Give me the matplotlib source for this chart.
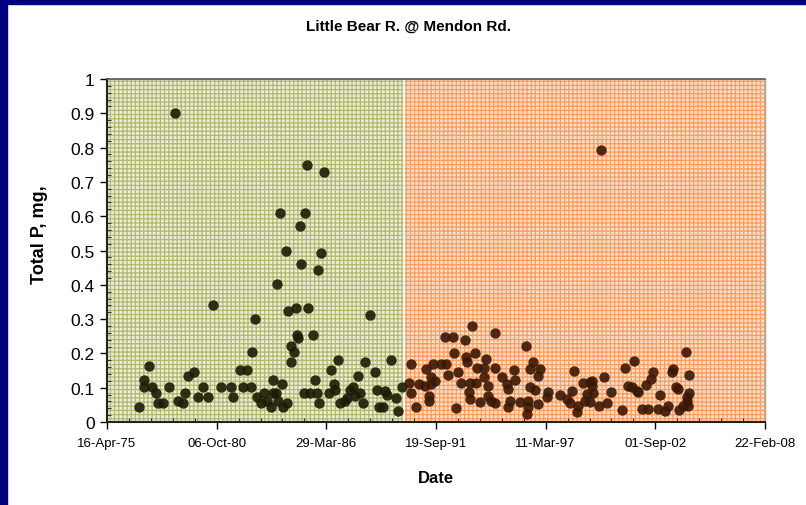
import numpy as np
import pandas as pd
import matplotlib
matplotlib.use("Agg")
import matplotlib.pyplot as plt
import matplotlib.dates as mdates
from matplotlib.ticker import MultipleLocator

plt.rcParams['font.family'] = ['Liberation Sans', 'DejaVu Sans']
plt.rcParams['hatch.linewidth'] = 0.9

# sample dates as decimal years
years_early = [1976.87, 1977.12, 1977.15, 1977.39, 1977.55, 1977.74, 1977.85, 1978.07, 1978.37, 1978.69,
               1978.85, 1979.07, 1979.17, 1979.35, 1979.62, 1979.85, 1980.10, 1980.35, 1980.60, 1980.98,
               1981.47, 1981.60, 1981.93, 1982.07, 1982.28, 1982.47, 1982.53, 1982.69, 1982.79, 1982.96,
               1983.14, 1983.26, 1983.46, 1983.56, 1983.56, 1983.71, 1983.76, 1983.84, 1983.94, 1984.01,
               1984.06, 1984.21, 1984.26, 1984.31, 1984.46, 1984.49, 1984.63, 1984.71, 1984.76, 1984.81,
               1984.93, 1984.99, 1985.13, 1985.19, 1985.26, 1985.31, 1985.43, 1985.56, 1985.68, 1985.76,
               1985.81, 1985.88, 1985.99, 1986.12, 1986.36, 1986.49, 1986.61, 1986.67, 1986.81, 1986.92,
               1987.17, 1987.29, 1987.42, 1987.56, 1987.67, 1987.81, 1987.92, 1988.06, 1988.17, 1988.42,
               1988.67, 1988.79, 1988.89, 1989.09, 1989.17, 1989.29, 1989.47, 1989.70, 1989.80, 1990.00]
tp_early = [0.044, 0.123, 0.102, 0.163, 0.102, 0.085, 0.055, 0.055, 0.102, 0.90,
            0.061, 0.055, 0.084, 0.133, 0.145, 0.073, 0.102, 0.073, 0.341, 0.102,
            0.102, 0.073, 0.152, 0.102, 0.152, 0.102, 0.203, 0.300, 0.074, 0.055,
            0.084, 0.062, 0.044, 0.123, 0.084, 0.084, 0.402, 0.062, 0.61, 0.112,
            0.045, 0.50, 0.055, 0.323, 0.174, 0.222, 0.203, 0.333, 0.255, 0.244,
            0.57, 0.46, 0.084, 0.61, 0.75, 0.333, 0.084, 0.254, 0.123, 0.084,
            0.442, 0.055, 0.493, 0.73, 0.084, 0.152, 0.112, 0.092, 0.182, 0.055,
            0.062, 0.071, 0.094, 0.102, 0.077, 0.134, 0.084, 0.055, 0.174, 0.312,
            0.145, 0.094, 0.044, 0.044, 0.089, 0.080, 0.182, 0.069, 0.032, 0.102]

years_late = [1990.35, 1990.45, 1990.47, 1990.73, 1990.85, 1991.15, 1991.22, 1991.35, 1991.35, 1991.48,
              1991.48, 1991.55, 1991.65, 1991.98, 1992.15, 1992.23, 1992.32, 1992.58, 1992.60, 1992.70,
              1992.81, 1992.95, 1993.15, 1993.20, 1993.26, 1993.35, 1993.40, 1993.40, 1993.51, 1993.65,
              1993.73, 1993.75, 1993.91, 1994.11, 1994.11, 1994.20, 1994.31, 1994.31, 1994.45, 1994.65,
              1994.65, 1994.66, 1994.99, 1995.26, 1995.33, 1995.33, 1995.41, 1995.63, 1995.66, 1995.91,
              1996.20, 1996.25, 1996.33, 1996.33, 1996.43, 1996.43, 1996.58, 1996.66, 1996.80, 1996.82,
              1996.91, 1997.24, 1997.32, 1997.91, 1998.24, 1998.41, 1998.52, 1998.59, 1998.74, 1998.82,
              1999.07, 1999.16, 1999.24, 1999.41, 1999.41, 1999.49, 1999.49, 1999.57, 1999.86, 1999.96,
              2000.09, 2000.27, 2000.45, 2001.02, 2001.15, 2001.32, 2001.49, 2001.59, 2001.74, 2001.82,
              2001.99, 2002.20, 2002.32, 2002.44, 2002.57, 2002.82, 2002.89, 2003.15, 2003.32, 2003.49,
              2003.57, 2003.70, 2003.82, 2003.86, 2004.03, 2004.18, 2004.23, 2004.23, 2004.31, 2004.36,
              2004.36]
tp_late = [0.113, 0.084, 0.169, 0.043, 0.110, 0.106, 0.155, 0.077, 0.060, 0.132,
           0.110, 0.169, 0.120, 0.169, 0.247, 0.169, 0.137, 0.247, 0.200, 0.040,
           0.145, 0.113, 0.239, 0.189, 0.174, 0.087, 0.113, 0.067, 0.279, 0.200,
           0.113, 0.157, 0.057, 0.157, 0.132, 0.184, 0.106, 0.077, 0.060, 0.260,
           0.157, 0.054, 0.130, 0.111, 0.096, 0.045, 0.060, 0.153, 0.122, 0.057,
           0.221, 0.023, 0.060, 0.045, 0.155, 0.103, 0.174, 0.093, 0.052, 0.135,
           0.155, 0.072, 0.087, 0.079, 0.067, 0.054, 0.090, 0.150, 0.028, 0.048,
           0.113, 0.062, 0.082, 0.116, 0.057, 0.120, 0.106, 0.084, 0.048, 0.793,
           0.130, 0.054, 0.087, 0.035, 0.157, 0.106, 0.101, 0.177, 0.090, 0.087,
           0.038, 0.109, 0.038, 0.124, 0.145, 0.038, 0.080, 0.033, 0.048, 0.145,
           0.155, 0.103, 0.096, 0.035, 0.048, 0.203, 0.074, 0.060, 0.048, 0.138,
           0.084]

x_start = "1975-04-16"
x_end = "2008-02-22"
split_date = "1990-02-20"


def to_dates(dec_years):
    out = []
    for y in dec_years:
        yr = int(y)
        out.append(pd.Timestamp(f"{yr}-01-01") + pd.Timedelta(days=(y - yr) * 365.25))
    return out


fig = plt.figure(figsize=(8.06, 5.06), dpi=100)
fig.patch.set_facecolor('white')
# navy frame (top and left)
fig.add_artist(plt.Rectangle((0, 1 - 5 / 506), 1, 5 / 506, transform=fig.transFigure,
                             color='#000080', zorder=0))
fig.add_artist(plt.Rectangle((0, 0), 7 / 806, 1, transform=fig.transFigure,
                             color='#000080', zorder=0))

ax = fig.add_axes([107 / 806, 83 / 506, 658 / 806, 343 / 506])

t0, t1, ts = pd.Timestamp(x_start), pd.Timestamp(x_end), pd.Timestamp(split_date)
ax.axvspan(t0, ts, facecolor='#eceed4', edgecolor='#b0b872', hatch='++++', linewidth=0, zorder=0)
ax.axvspan(ts, t1, facecolor='#ffe0cc', edgecolor='#ff9c5c', hatch='++++', linewidth=0, zorder=0)
ax.axvline(ts, color='white', linewidth=1.2, zorder=1)

# markers are a bit see-through, so they take the tint of the band behind them
ax.scatter(to_dates(years_early), tp_early, s=56, color='#1a1c04', alpha=0.9, linewidths=0, zorder=3)
ax.scatter(to_dates(years_late), tp_late, s=56, color='#3a1804', alpha=0.9, linewidths=0, zorder=3)

ax.set_xlim(t0, t1)
ax.set_ylim(0, 1)
major = pd.date_range(t0, t1, freq='2000D')
minor = pd.date_range(t0, t1, freq='400D')
ax.set_xticks(major)
ax.set_xticks(minor, minor=True)
ax.xaxis.set_major_formatter(mdates.DateFormatter('%d-%b-%y'))
ax.yaxis.set_minor_locator(MultipleLocator(0.02))
ax.set_yticks(np.arange(0, 1.01, 0.1))
ax.set_yticklabels(['0'] + [f"{v:.1f}" for v in np.arange(0.1, 0.95, 0.1)] + ['1'])

ax.tick_params(axis='both', which='major', direction='out', length=5, width=1, colors='black')
ax.tick_params(axis='x', which='major', labelsize=9.5, pad=6)
ax.tick_params(axis='y', which='major', labelsize=12.5, pad=4)
ax.tick_params(axis='both', which='minor', direction='in', length=3, width=0.8, color='#333333')

for side in ['left', 'bottom']:
    ax.spines[side].set_color('#222222')
    ax.spines[side].set_linewidth(1.5)
ax.spines['top'].set_color('#555555')
ax.spines['top'].set_linewidth(1.2)
ax.spines['right'].set_color('#aaaaaa')
ax.spines['right'].set_linewidth(1.0)

ax.set_xlabel('Date', fontsize=12, fontweight='bold')
ax.xaxis.set_label_coords(0.5, -0.14)
ax.set_ylabel('Total P, mg,', fontsize=13, fontweight='bold')
ax.yaxis.set_label_coords(-0.09, 0.55)

fig.text(408 / 806, 1 - 27 / 506, 'Little Bear R. @ Mendon Rd.', ha='center', va='center',
         fontsize=11, fontweight='bold')

fig.savefig('out.png', dpi=100)
